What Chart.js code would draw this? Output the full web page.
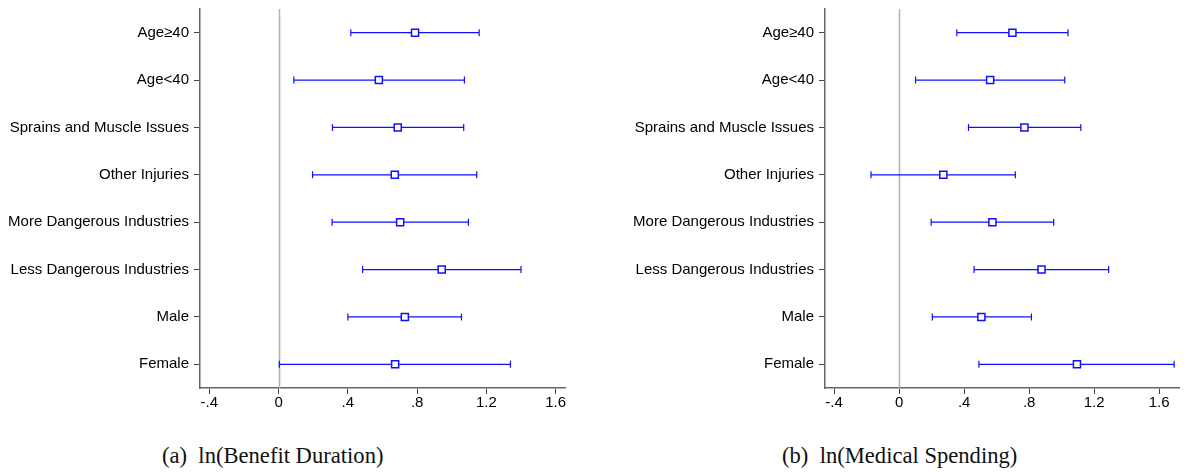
<!DOCTYPE html>
<html>
<head>
<meta charset="utf-8">
<script src="https://cdn.jsdelivr.net/npm/chart.js@4/dist/chart.umd.min.js"></script>
<style>
  html, body { margin: 0; padding: 0; background: #fff; }
  body { width: 1186px; height: 475px; overflow: hidden; position: relative; }
  .panel { position: absolute; top: 0; }
  .cap {
    position: absolute; top: 443px; white-space: pre; color: #111;
    font-family: "Liberation Serif", "Times New Roman", serif; font-size: 22.6px; line-height: 26px;
  }
</style>
</head>
<body>
<div class="panel" style="left:0"><canvas id="duration" width="600" height="420"></canvas></div>
<div class="panel" style="left:600px"><canvas id="spending" width="586" height="420"></canvas></div>
<div class="cap" style="left:162px">(a)  ln(Benefit Duration)</div>
<div class="cap" style="left:782px">(b)  ln(Medical Spending)</div>

<script>
// Subgroups, listed top to bottom
const categories = [
  "Age≥40", "Age<40", "Sprains and Muscle Issues", "Other Injuries",
  "More Dangerous Industries", "Less Dangerous Industries", "Male", "Female"
];

// ln(Benefit Duration): point estimates and 95% CI bounds
const durationEst  = [0.788, 0.579, 0.688, 0.671, 0.702, 0.942, 0.729, 0.673];
const durationLow  = [0.417, 0.088, 0.311, 0.196, 0.309, 0.485, 0.400, 0.004];
const durationHigh = [1.158, 1.073, 1.069, 1.144, 1.096, 1.400, 1.056, 1.339];

// ln(Medical Spending): point estimates and 95% CI bounds
const spendingEst  = [0.697, 0.560, 0.771, 0.272, 0.574, 0.876, 0.506, 1.094];
const spendingLow  = [0.355, 0.101, 0.427, -0.173, 0.197, 0.461, 0.204, 0.491];
const spendingHigh = [1.039, 1.019, 1.118, 0.715, 0.951, 1.289, 0.814, 1.692];

// x-axis ticks
const xTicks = [-0.4, 0, 0.4, 0.8, 1.2, 1.6];
const xTickLabels = ["-.4", "0", ".4", ".8", "1.2", "1.6"];

const MARK = '#1010ff';
const AXIS = '#666';
const TICK_FONT = { family: '"Liberation Sans", Arial, sans-serif', size: 15 };

// Draws the zero reference line and the horizontal confidence intervals with end caps
function ciPlugin(low, high) {
  return {
    id: 'ciBars',
    beforeDatasetsDraw(chart) {
      const { ctx, chartArea, scales: { x, y } } = chart;
      ctx.save();
      const x0 = Math.round(x.getPixelForValue(0)) + 0.5;
      ctx.strokeStyle = '#b5b5b5';
      ctx.lineWidth = 1.6;
      ctx.beginPath();
      ctx.moveTo(x0, chartArea.top);
      ctx.lineTo(x0, chartArea.bottom);
      ctx.stroke();

      ctx.strokeStyle = MARK;
      ctx.lineWidth = 1.2;
      low.forEach((lo, i) => {
        const py = y.getPixelForValue(i);
        const a = x.getPixelForValue(lo);
        const b = x.getPixelForValue(high[i]);
        ctx.beginPath();
        ctx.moveTo(a, py); ctx.lineTo(b, py);
        ctx.moveTo(a, py - 3.5); ctx.lineTo(a, py + 3.5);
        ctx.moveTo(b, py - 3.5); ctx.lineTo(b, py + 3.5);
        ctx.stroke();
      });
      ctx.restore();
    }
  };
}

function makeChart(id, est, low, high, cfg) {
  new Chart(document.getElementById(id), {
    type: 'scatter',
    data: {
      datasets: [{
        data: est.map((v, i) => ({ x: v, y: categories[i] })),
        pointStyle: 'rect',
        radius: 5,
        hoverRadius: 5,
        borderWidth: 1.5,
        borderColor: MARK,
        backgroundColor: '#fff'
      }]
    },
    options: {
      responsive: false,
      animation: false,
      events: [],
      layout: { padding: { top: 9, right: cfg.padRight, bottom: 0, left: 0 } },
      plugins: { legend: { display: false }, tooltip: { enabled: false } },
      scales: {
        x: {
          type: 'linear',
          min: cfg.xMin,
          max: cfg.xMax,
          afterBuildTicks: s => { s.ticks = xTicks.map(v => ({ value: v })); },
          afterFit: s => { s.height = 32; s.paddingLeft = 0; s.paddingRight = 0; },
          ticks: {
            font: TICK_FONT, color: '#000', padding: 0, maxRotation: 0, autoSkip: false,
            callback: (v, i) => xTickLabels[i]
          },
          grid: { drawOnChartArea: false, drawTicks: true, tickLength: 6, tickColor: '#444', tickWidth: 1 },
          border: { display: true, color: AXIS, width: 1.5 }
        },
        y: {
          type: 'category',
          labels: categories,
          offset: true,
          afterFit: s => { s.width = cfg.yWidth; s.paddingTop = 0; s.paddingBottom = 0; },
          ticks: { font: TICK_FONT, color: '#000', padding: 5, autoSkip: false },
          grid: { offset: false, drawOnChartArea: false, drawTicks: true, tickLength: 6, tickColor: '#444', tickWidth: 1 },
          border: { display: true, color: AXIS, width: 1.5 }
        }
      }
    },
    plugins: [ciPlugin(low, high)]
  });
}

makeChart('duration', durationEst, durationLow, durationHigh,
  { xMin: -0.454, xMax: 1.654, yWidth: 200, padRight: 35 });
makeChart('spending', spendingEst, spendingLow, spendingHigh,
  { xMin: -0.456, xMax: 1.725, yWidth: 225, padRight: 0 });
</script>
</body>
</html>
